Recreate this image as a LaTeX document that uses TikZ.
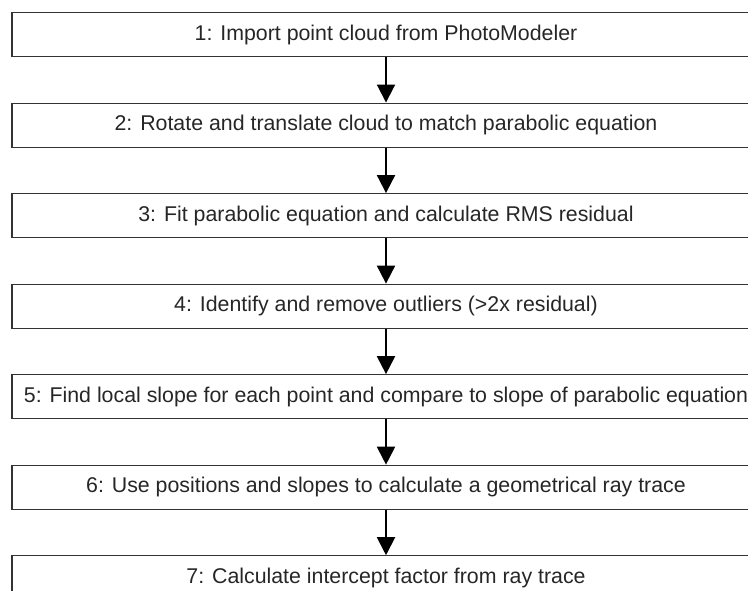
\documentclass[tikz,border=0pt]{standalone}
\usepackage{fontspec}
\setmainfont{Liberation Sans}
\usetikzlibrary{positioning, arrows.meta}

\tikzset{
  stepbox/.style={draw=black!80, line width=0.9pt, minimum width=561pt, minimum height=33pt,
    inner sep=0pt, text=black!85, font=\fontsize{16}{19}\selectfont},
  flow/.style={-{Triangle[width=13.5pt,length=13.5pt]}, line width=1.5pt}
}

\begin{document}
\begin{tikzpicture}[node distance=34pt]
        \clip (0,0) rectangle (561pt,-442.5pt);
        \node[stepbox, anchor=north] (s1) at (289.5pt,-9pt) {1: Import point cloud from PhotoModeler};
        \node[stepbox, below=of s1] (s2) {2: Rotate and translate cloud to match parabolic equation};
        \node[stepbox, below=of s2] (s3) {3: Fit parabolic equation and calculate RMS residual};
        \node[stepbox, below=of s3] (s4) {4: Identify and remove outliers (>2x residual)};
        \node[stepbox, below=of s4] (s5) {5: Find local slope for each point and compare to slope of parabolic equation};
        \node[stepbox, below=of s5] (s6) {6: Use positions and slopes to calculate a geometrical ray trace};
        \node[stepbox, below=of s6] (s7) {7: Calculate intercept factor from ray trace};

        \foreach \a/\b in {s1/s2, s2/s3, s3/s4, s4/s5, s5/s6, s6/s7}
            \draw[flow] (\a) -- (\b);
    \end{tikzpicture}
\end{document}
